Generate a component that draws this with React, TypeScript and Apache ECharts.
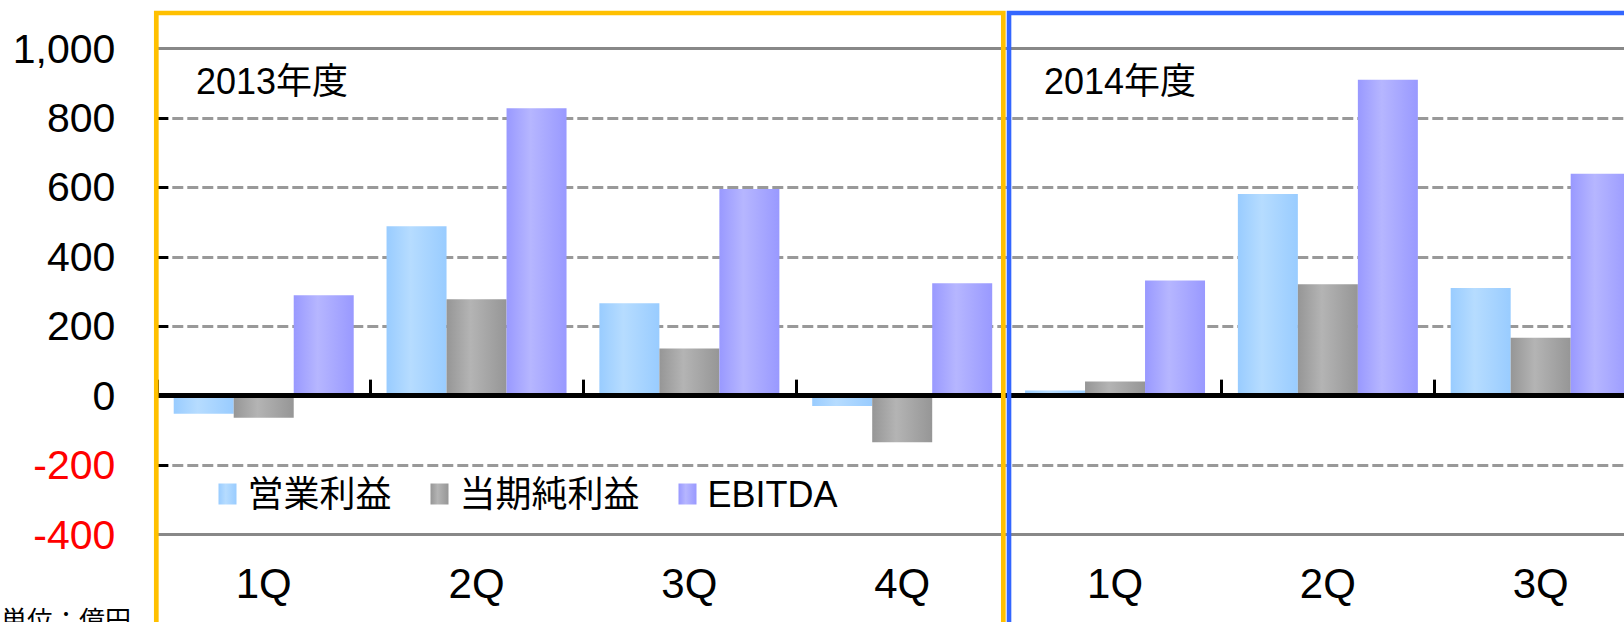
import React, { useEffect, useRef } from 'react';
import * as echarts from 'echarts';

// ---- data ----
const fiscalYears = ['2013年度', '2014年度'];
const quarters = ['1Q', '2Q', '3Q', '4Q', '1Q', '2Q', '3Q'];
const categoryYears = ['2013', '2013', '2013', '2013', '2014', '2014', '2014'];
const seriesNames = ['営業利益', '当期純利益', 'EBITDA'];
const operatingIncome = [-52, 488, 266, -30, 15, 581, 310];
const netIncome = [-64, 278, 136, -134, 41, 321, 167];
const ebitda = [289, 828, 595, 324, 332, 910, 639];
const yMin = -400;
const yMax = 1000;
const yInterval = 200;
const unitLabel = '単位：億円';

// ---- layout / style ----
const FONT = "'Liberation Sans', 'Noto Sans CJK JP', sans-serif";
const GRID_LEFT = 157.3;
const BAND = 212.83;
const GRID_TOP = 48.5;
const GRID_HEIGHT = 486;

const grad = (edge: string, light: string) =>
  new echarts.graphic.LinearGradient(0, 0, 1, 0, [
    { offset: 0, color: edge },
    { offset: 0.4, color: light },
    { offset: 1, color: edge },
  ]);

export default function App() {
  const ref = useRef<HTMLDivElement>(null);

  useEffect(() => {
    if (!ref.current) return;
    const chart = echarts.init(ref.current, null, { renderer: 'svg' });
    const categories = quarters.map((q, i) => `${categoryYears[i]}|${q}`);
    const seriesData = [operatingIncome, netIncome, ebitda];
    const colors = [
      grad('#99CCFF', '#B6DCFF'),
      grad('#969696', '#B4B4B4'),
      grad('#9999FF', '#B6B6FF'),
    ];
    const b0 = GRID_LEFT;
    const b4 = GRID_LEFT + 4 * BAND;

    const option: any = {
      animation: false,
      textStyle: { fontFamily: FONT },
      grid: {
        left: GRID_LEFT,
        top: GRID_TOP,
        width: BAND * quarters.length,
        height: GRID_HEIGHT,
        containLabel: false,
        outerBoundsMode: 'none',
      },
      legend: {
        left: 213.5,
        top: 471,
        itemWidth: 18,
        itemHeight: 21,
        itemGap: 39,
        icon: 'rect',
        selectedMode: false,
        data: seriesNames,
        textStyle: { fontSize: 36, color: '#000', fontFamily: FONT, padding: [10, 0, 0, 6] },
      },
      xAxis: [
        {
          type: 'category',
          data: categories,
          position: 'bottom',
          z: 5,
          axisLine: { show: true, onZero: true, lineStyle: { color: '#000', width: 5 } },
          axisTick: { show: true, inside: true, length: 16, lineStyle: { color: '#000', width: 3 } },
          axisLabel: { show: false },
          splitLine: { show: false },
        },
        {
          type: 'category',
          data: categories,
          position: 'bottom',
          axisLine: { show: false, onZero: false },
          axisTick: { show: false },
          splitLine: { show: false },
          axisLabel: {
            show: true,
            interval: 0,
            fontSize: 42,
            color: '#000',
            fontFamily: FONT,
            margin: 28,
            formatter: (v: string) => v.split('|')[1],
          },
        },
      ],
      yAxis: {
        type: 'value',
        min: yMin,
        max: yMax,
        interval: yInterval,
        axisLine: { show: false },
        axisTick: { show: true, inside: true, length: 11, lineStyle: { color: '#000', width: 3 } },
        axisLabel: {
          fontSize: 41,
          fontFamily: FONT,
          margin: 42,
          color: (v: any) => (Number(v) < 0 ? '#FF0000' : '#000000'),
          formatter: (v: number) => Number(v).toLocaleString('en-US'),
        },
        splitLine: { show: true, lineStyle: { color: '#999999', width: 3, type: [11, 4] } },
      },
      series: seriesNames.map((name, i) => ({
        name,
        type: 'bar',
        xAxisIndex: 0,
        yAxisIndex: 0,
        data: seriesData[i],
        barWidth: 60,
        barGap: '0%',
        itemStyle: { color: colors[i] },
        emphasis: { disabled: true },
        ...(i === 0
          ? {
              markLine: {
                silent: true,
                symbol: ['none', 'none'],
                label: { show: false },
                emphasis: { disabled: true },
                lineStyle: { color: '#888888', width: 3, type: 'solid' },
                data: [{ yAxis: yMax }, { yAxis: yMin }],
              },
            }
          : {}),
      })),
      graphic: [
        {
          type: 'rect',
          z: 100,
          shape: { x: b0 - 1, y: 13, width: b4 - 5.3 - (b0 - 1), height: 700 },
          style: { fill: 'none', stroke: '#FFC000', lineWidth: 4.7 },
        },
        {
          type: 'rect',
          z: 100,
          shape: { x: b4 + 0.4, y: 13, width: 1000, height: 700 },
          style: { fill: 'none', stroke: '#3366FF', lineWidth: 4.6 },
        },
        {
          type: 'text',
          z: 100,
          x: b0 + 38.7,
          y: 81.2,
          style: {
            text: fiscalYears[0],
            font: `36px ${FONT}`,
            fill: '#000',
            align: 'left',
            verticalAlign: 'middle',
            textAlign: 'left',
            textVerticalAlign: 'middle',
          },
        },
        {
          type: 'text',
          z: 100,
          x: b4 + 35.4,
          y: 81.2,
          style: {
            text: fiscalYears[1],
            font: `36px ${FONT}`,
            fill: '#000',
            align: 'left',
            verticalAlign: 'middle',
            textAlign: 'left',
            textVerticalAlign: 'middle',
          },
        },
        {
          type: 'text',
          z: 100,
          x: 1,
          y: 621,
          style: {
            text: unitLabel,
            font: `26px ${FONT}`,
            fill: '#000',
            align: 'left',
            verticalAlign: 'middle',
            textAlign: 'left',
            textVerticalAlign: 'middle',
          },
        },
      ],
    };
    chart.setOption(option);
    return () => chart.dispose();
  }, []);

  return (
    <div
      ref={ref}
      style={{ position: 'absolute', left: 0, top: 0, width: 1624, height: 622, background: '#fff' }}
    />
  );
}
